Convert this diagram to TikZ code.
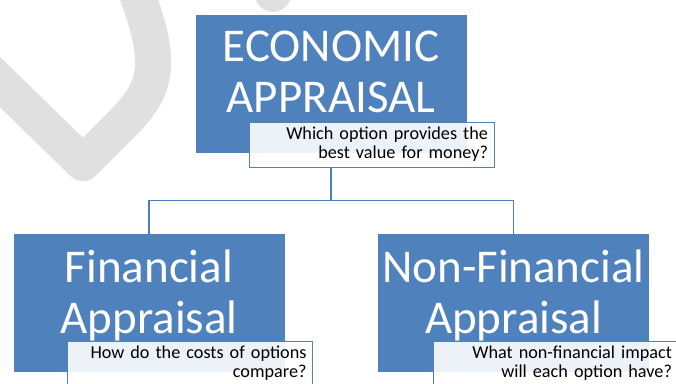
\documentclass[tikz,border=0pt]{standalone}
\usepackage{fontspec}
\setmainfont{Carlito}
\definecolor{accent}{HTML}{4F81BD}
\definecolor{connblue}{HTML}{4A7EBB}
\definecolor{wm}{HTML}{E0E0E0}
\begin{document}
\begin{tikzpicture}[x=1pt,y=-1pt,
  bluebox/.style={fill=accent,draw=accent,line width=0.5pt,minimum width=270pt,minimum height=137pt,inner sep=0pt},
  titletext/.style={text=white,align=center,font=\fontsize{47}{51}\selectfont,inner sep=0pt},
  qbox/.style={draw=accent,line width=1pt,fill=white,fill opacity=0.9,text opacity=1,text=black,
    text width=233pt,inner xsep=6pt,inner ysep=0pt,minimum height=45pt,align=right,
    font=\fontsize{18.2}{19.2}\selectfont},
  conn/.style={draw=connblue,line width=1.5pt},
  wmark/.style={draw=wm,line width=36pt,line join=round,line cap=round}]
\useasboundingbox (0,0) rectangle (676,383);
\clip (0,0) rectangle (676,383);
\fill[white] (0,0) rectangle (676,383);
% watermark
\draw[wmark] (-40,43) -- (83,163) -- (122,124) .. controls (145,101) and (153,85) .. (153,62) .. controls (153,40) and (146,18) .. (132,-20);
\draw[wmark] (300,-60) -- (273,-6);
% top
\node[bluebox] (econ) at (331,83.5) {};
\node[titletext] (econt) at (331,72) {ECONOMIC\\APPRAISAL};
\node[qbox] (econq) at (371.5,144.5) {Which option provides the\\best value for money?};
% bottom left
\node[bluebox] (fin) at (149,303) {};
\node[titletext] (fint) at (149,295) {Financial\\Appraisal};
\node[qbox] (finq) at (190,363.5) {How do the costs of options\\compare?};
% bottom right
\node[bluebox] (nonfin) at (513.5,303) {};
\node[titletext] (nonfint) at (513.5,295) {Non-Financial\\Appraisal};
\node[qbox] (nonfinq) at (555.5,363.5) {What non-financial impact\\will each option have?};
% connectors
\draw[conn] (econq.south -| econ.south) -- ++(0,33) -| (fin.north);
\draw[conn] (econq.south -| econ.south) -- ++(0,33) -| (nonfin.north);
\end{tikzpicture}
\end{document}
